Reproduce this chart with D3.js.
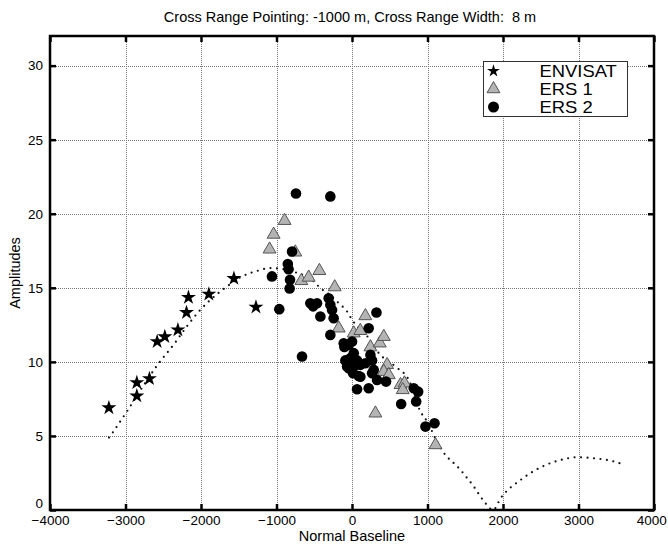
<!DOCTYPE html>
<html>
<head>
<meta charset="utf-8">
<script src="https://cdn.jsdelivr.net/npm/d3@7"></script>
<style>
  body { margin: 0; background: #fff; }
  text { font-family: "Liberation Sans", Arial, sans-serif; }
</style>
</head>
<body>
<script>
// values
const envisat = [
  [-3220, 6.9], [-2850, 8.6], [-2850, 7.7], [-2683, 8.87], [-2581, 11.37],
  [-2479, 11.7], [-2306, 12.16], [-2192, 13.33], [-2166, 14.35], [-1896, 14.57],
  [-1564, 15.63], [-1272, 13.7]
];
const ers1 = [
  [-1092, 17.6], [-1038, 18.6], [-893, 19.53], [-751, 17.4], [-671, 15.47],
  [-574, 15.7], [-432, 16.15], [-229, 15.05], [-176, 12.27], [23, 11.94],
  [110, 12.1], [177, 13.1], [244, 11.0], [368, 11.26], [421, 11.7],
  [465, 9.8], [421, 9.34], [487, 9.12], [642, 8.45], [695, 8.56],
  [672, 8.11], [310, 6.53], [1106, 4.39]
];
const ers2 = [
  [-742, 21.37], [-287, 21.17], [-794, 17.45], [-850, 16.6], [-840, 16.25],
  [-1060, 15.77], [-821, 15.54], [-826, 14.95], [-963, 13.56], [-662, 10.36],
  [-552, 13.96], [-515, 13.75], [-463, 13.96], [-309, 14.3], [-287, 13.85],
  [-264, 13.5], [-419, 13.06], [-243, 12.95], [-287, 11.82], [324, 13.33],
  [221, 12.27], [1, 11.37], [-44, 11.15], [-101, 11.0], [-110, 11.26],
  [-21, 10.25], [-88, 10.1], [67, 10.1], [-65, 9.68], [23, 9.68],
  [111, 9.8], [244, 10.47], [266, 10.1], [14, 9.23], [89, 9.05],
  [288, 9.46], [23, 10.59], [67, 10.02], [-44, 9.57], [111, 9.0],
  [177, 9.91], [266, 9.23], [332, 8.78], [451, 8.67], [67, 8.15],
  [221, 8.22], [818, 8.22], [876, 7.99], [850, 7.32], [651, 7.16],
  [973, 5.63], [1093, 5.86]
];
// fitted curve
const fitCurve = [
  [-3218, 4.89], [-3160, 5.3], [-2983, 6.64], [-2762, 8.4], [-2585, 9.73],
  [-2342, 11.3], [-2187, 12.4], [-2011, 13.5], [-1900, 14.07], [-1666, 15.05],
  [-1480, 15.7], [-1250, 16.15], [-1082, 16.33], [-900, 16.25], [-751, 16.05],
  [-640, 15.85], [-508, 15.43], [-419, 14.98], [-287, 14.5], [-176, 13.96],
  [-65, 13.4], [1, 12.84], [89, 12.28], [221, 11.6], [288, 11.03],
  [377, 10.47], [576, 9.68], [752, 8.78], [907, 6.64], [996, 5.97],
  [1128, 4.6], [1239, 3.7], [1350, 3.15], [1438, 2.7], [1527, 2.14],
  [1615, 1.57], [1703, 0.9], [1769, 0.45], [1870, 0.0], [1968, 0.79],
  [2233, 2.03], [2499, 2.88], [2764, 3.38], [2985, 3.56], [3206, 3.49],
  [3427, 3.33], [3604, 3.06]
];
const xTicks = [-4000, -3000, -2000, -1000, 0, 1000, 2000, 3000, 4000];
const yTicks = [0, 5, 10, 15, 20, 25, 30];
const legendNames = ["ENVISAT", "ERS 1", "ERS 2"];

const W = 668, H = 544;
const margin = {top: 36, right: 14, bottom: 34, left: 50};
const width = W - margin.left - margin.right,
      height = H - margin.top - margin.bottom;

const svg = d3.select("body").append("svg")
    .attr("width", W).attr("height", H);
const g = svg.append("g")
    .attr("transform", `translate(${margin.left},${margin.top})`);

const x = d3.scaleLinear().domain([-4000, 4000]).range([0, width]);
const y = d3.scaleLinear().domain([0, 32]).range([height, 0]);
const px = v => Math.round(v) + 0.5;

// grid
g.append("g").selectAll("line")
    .data(xTicks.slice(1, -1))
    .join("line")
    .attr("x1", d => px(x(d))).attr("x2", d => px(x(d)))
    .attr("y1", 0).attr("y2", height)
    .attr("stroke", "#777").attr("stroke-width", 1)
    .attr("stroke-dasharray", "1,1");
g.append("g").selectAll("line")
    .data(yTicks.slice(1))
    .join("line")
    .attr("x1", 0).attr("x2", width)
    .attr("y1", d => px(y(d))).attr("y2", d => px(y(d)))
    .attr("stroke", "#777").attr("stroke-width", 1)
    .attr("stroke-dasharray", "1,1");

// axes (ticks pointing inward, on all sides)
const axStyle = sel => {
  sel.select(".domain").remove();
  sel.selectAll(".tick line").attr("stroke", "#000").attr("stroke-width", 2.5);
  sel.selectAll(".tick text").attr("fill", "#000")
     .style("font-size", "13.5px").style("font-family", "Liberation Sans, Arial, sans-serif");
};
const fmt = d3.format("d");
const xAxis = g.append("g").attr("transform", `translate(0,${height})`)
    .call(d3.axisBottom(x).tickValues(xTicks).tickFormat(fmt).tickSizeInner(-6).tickSizeOuter(0).tickPadding(5))
    .call(axStyle);
const yAxis = g.append("g")
    .call(d3.axisLeft(y).tickValues(yTicks).tickFormat(fmt).tickSizeInner(-6).tickSizeOuter(0).tickPadding(7))
    .call(axStyle);
g.append("g")
    .call(d3.axisTop(x).tickValues(xTicks).tickSizeInner(-6).tickSizeOuter(0).tickFormat(""))
    .call(axStyle);
g.append("g").attr("transform", `translate(${width},0)`)
    .call(d3.axisRight(y).tickValues(yTicks).tickSizeInner(-6).tickSizeOuter(0).tickFormat(""))
    .call(axStyle);

// the "0" on the y axis sits a little higher in the original
yAxis.selectAll(".tick text").filter(d => d === 0).attr("dy", "-0.15em");
// keep the last x label inside the window
xAxis.selectAll(".tick text").filter(d => d === 4000).attr("dx", "-0.2em");

// frame
g.append("rect")
    .attr("width", width).attr("height", height)
    .attr("fill", "none").attr("stroke", "#000").attr("stroke-width", 2.5);

// fitted dotted curve
g.append("path")
    .datum(fitCurve)
    .attr("fill", "none")
    .attr("stroke", "#111")
    .attr("stroke-width", 2.2)
    .attr("stroke-linecap", "round")
    .attr("stroke-dasharray", "0,6.5")
    .attr("d", d3.line()
        .x(d => x(d[0]))
        .y(d => y(d[1]))
        .curve(d3.curveMonotoneX));

const star = d3.symbol().type(d3.symbolStar).size(70);
const tri = d3.symbol().type(d3.symbolTriangle).size(72);

// ERS 1 triangles
g.selectAll(".ers1")
    .data(ers1)
    .join("path")
    .attr("class", "ers1")
    .attr("transform", d => `translate(${x(d[0])},${y(d[1])})`)
    .attr("d", tri)
    .attr("fill", "#b4b4b4")
    .attr("stroke", "#555")
    .attr("stroke-width", 1);

// ERS 2 circles
g.selectAll(".ers2")
    .data(ers2)
    .join("circle")
    .attr("class", "ers2")
    .attr("cx", d => x(d[0]))
    .attr("cy", d => y(d[1]))
    .attr("r", 5.3)
    .attr("fill", "#000");

// ENVISAT stars
g.selectAll(".env")
    .data(envisat)
    .join("path")
    .attr("class", "env")
    .attr("transform", d => `translate(${x(d[0])},${y(d[1])})`)
    .attr("d", star)
    .attr("fill", "#000");

// legend
const lg = svg.append("g").attr("transform", "translate(483.5,61.5)");
lg.append("rect")
    .attr("width", 144).attr("height", 55)
    .attr("fill", "#fff").attr("stroke", "#333").attr("stroke-width", 1);
const rowY = [9.5, 27.5, 45.5];
legendNames.forEach(function(name, i) {
  const row = lg.append("g").attr("transform", `translate(10,${rowY[i]})`);
  if (i === 0) row.append("path").attr("d", d3.symbol().type(d3.symbolStar).size(50)).attr("fill", "#000");
  if (i === 1) row.append("path").attr("d", d3.symbol().type(d3.symbolTriangle).size(72))
      .attr("fill", "#b4b4b4").attr("stroke", "#555");
  if (i === 2) row.append("circle").attr("r", 5.5).attr("fill", "#000");
  // slightly wide lettering, as in the original legend
  lg.append("text")
      .attr("transform", `translate(56,${rowY[i]}) scale(1.15,1)`)
      .attr("dy", "0.36em")
      .style("font-size", "16px")
      .text(name);
});

// title and axis labels
svg.append("text")
    .attr("x", 350).attr("y", 22)
    .attr("text-anchor", "middle")
    .style("font-size", "14.5px")
    .style("white-space", "pre")
    .attr("xml:space", "preserve")
    .text("Cross Range Pointing: -1000 m, Cross Range Width:  8 m");

svg.append("text")
    .attr("x", margin.left + width / 2).attr("y", 541)
    .attr("text-anchor", "middle")
    .style("font-size", "14.5px")
    .text("Normal Baseline");

svg.append("text")
    .attr("transform", `translate(20,${margin.top + height / 2}) rotate(-90)`)
    .attr("text-anchor", "middle")
    .style("font-size", "14.5px")
    .text("Amplitudes");
</script>
</body>
</html>
